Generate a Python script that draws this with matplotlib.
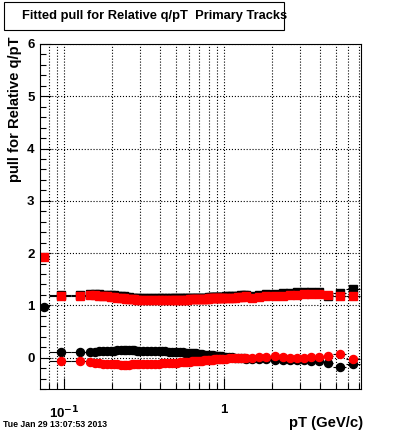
import numpy as np
import matplotlib
matplotlib.use("Agg")
import matplotlib.pyplot as plt
from matplotlib.patches import Rectangle
from matplotlib.ticker import FixedLocator, FixedFormatter, NullFormatter

plt.rcParams['font.family'] = ['Liberation Sans', 'DejaVu Sans']
plt.rcParams['font.weight'] = 'bold'

nan = np.nan

# pT bin edges (GeV/c)
pt_edges = [0.07, 0.08, 0.11, 0.14,
            0.15, 0.16, 0.17, 0.18, 0.19, 0.20, 0.21, 0.22, 0.23, 0.24,
            0.25, 0.26, 0.27, 0.28, 0.29, 0.30,
            0.32, 0.34, 0.36, 0.38, 0.40, 0.42, 0.44, 0.46, 0.48, 0.50,
            0.52, 0.54, 0.56, 0.58, 0.60, 0.62, 0.64, 0.66, 0.68, 0.70,
            0.72, 0.74, 0.76, 0.78, 0.80, 0.82, 0.84, 0.86, 0.88, 0.90,
            0.92, 0.94, 0.96, 0.98, 1.00,
            1.05, 1.10, 1.15, 1.20, 1.25, 1.30, 1.35, 1.40,
            1.575, 1.725, 1.95, 2.2, 2.45, 2.7, 3.0, 3.3, 3.7, 4.2, 4.8, 5.8, 7.1]

# black: mean (circles) and sigma (squares)
black_mean = [0.97, 0.10, 0.10,
              0.10, 0.11, 0.12, 0.12, 0.13, 0.13, 0.13, 0.14, 0.14, 0.14, 0.14, 0.14, 0.14, 0.14, 0.13, 0.13,
              0.13, 0.13, 0.13, 0.12, 0.12, 0.12, 0.12, 0.11, 0.11, 0.11,
              0.10, 0.10, 0.10, 0.09, 0.09, 0.09, 0.08, 0.08, 0.08, 0.07,
              0.07, 0.07, 0.06, 0.06, 0.06, 0.05, 0.05, 0.05, 0.04, 0.04,
              0.04, 0.03, 0.03, 0.03, 0.02,
              0.02, 0.01, 0.01, 0.0, 0.0, -0.01, -0.01, -0.02,
              -0.02, -0.03, -0.03, -0.04, -0.05, -0.04, -0.05, -0.05, -0.06, -0.07, -0.10, -0.17, -0.12]
black_sigma = [nan, 1.19, 1.19,
               1.21, 1.21, 1.21, 1.20, 1.20, 1.19, 1.19, 1.18, 1.17, 1.17, 1.16, 1.16, 1.15, 1.15, 1.14, 1.14,
               1.14, 1.14, 1.14, 1.14, 1.14, 1.14, 1.14, 1.14, 1.14, 1.14,
               1.14, 1.14, 1.14, 1.14, 1.14, 1.15, 1.15, 1.15, 1.15, 1.15,
               1.15, 1.15, 1.15, 1.15, 1.15, 1.16, 1.16, 1.16, 1.16, 1.16,
               1.16, 1.16, 1.16, 1.16, 1.16,
               1.17, 1.17, 1.18, 1.18, 1.18, 1.19, 1.19, 1.19,
               1.18, 1.19, 1.21, 1.22, 1.23, 1.24, 1.25, 1.25, 1.26, 1.26, 1.18, 1.23, 1.32]

# red: mean (circles) and sigma (squares)
red_mean = [nan, -0.06, -0.07,
            -0.09, -0.10, -0.11, -0.12, -0.12, -0.13, -0.13, -0.13, -0.14, -0.14, -0.14, -0.14, -0.13, -0.13, -0.13, -0.13,
            -0.13, -0.13, -0.12, -0.12, -0.12, -0.11, -0.11, -0.11, -0.10, -0.10,
            -0.10, -0.09, -0.09, -0.09, -0.08, -0.08, -0.07, -0.07, -0.07, -0.06,
            -0.06, -0.06, -0.05, -0.05, -0.05, -0.04, -0.04, -0.04, -0.03, -0.03,
            -0.03, -0.02, -0.02, -0.02, -0.02,
            -0.02, -0.01, -0.01, -0.01, 0.0, 0.0, 0.0, 0.0,
            -0.01, 0.01, 0.01, 0.04, 0.02, -0.01, 0.0, 0.0, 0.01, 0.01, 0.04, 0.07, -0.03]
red_sigma = [1.92, 1.18, 1.18,
             1.19, 1.19, 1.18, 1.18, 1.17, 1.16, 1.16, 1.15, 1.14, 1.14, 1.13, 1.13, 1.12, 1.12, 1.11, 1.11,
             1.11, 1.11, 1.11, 1.11, 1.11, 1.11, 1.11, 1.11, 1.11, 1.11,
             1.11, 1.11, 1.11, 1.11, 1.11, 1.12, 1.12, 1.12, 1.12, 1.13,
             1.13, 1.13, 1.13, 1.13, 1.13, 1.14, 1.14, 1.14, 1.14, 1.14,
             1.14, 1.14, 1.14, 1.14, 1.14,
             1.14, 1.15, 1.15, 1.15, 1.16, 1.16, 1.16, 1.17,
             1.15, 1.16, 1.17, 1.18, 1.18, 1.19, 1.20, 1.21, 1.21, 1.22, 1.19, 1.17, 1.18]

edges = np.array(pt_edges)
pt = 0.5 * (edges[:-1] + edges[1:])
pt_err = [pt - edges[:-1], edges[1:] - pt]

fig = plt.figure(figsize=(4, 4.33), dpi=100)
ax = fig.add_axes([0.1, 0.1016, 0.8025, 0.7968])

series = [(black_mean, 'black', 'o', 5.8), (black_sigma, 'black', 's', 6.0),
          (red_mean, 'red', 'o', 5.8), (red_sigma, 'red', 's', 6.0)]
for vals, col, mk, ms in series:
    ax.errorbar(pt, vals, xerr=pt_err, fmt=mk, color=col, ms=ms, mec=col,
                ecolor='black', elinewidth=0.8, capsize=0)

ax.set_xscale('log')
ax.set_xlim(0.0705, 7.2)
ax.set_ylim(-0.6, 6)

ax.xaxis.set_major_locator(FixedLocator([0.1, 1]))
ax.xaxis.set_major_formatter(FixedFormatter(['10$^{-1}$', '1']))
minor_x = [0.08, 0.09] + [0.1 * k for k in range(2, 10)] + [float(k) for k in range(2, 8)]
ax.xaxis.set_minor_locator(FixedLocator(minor_x))
ax.xaxis.set_minor_formatter(NullFormatter())
ax.set_yticks(range(0, 7))
ax.set_yticks(np.arange(-0.6, 6.01, 0.2), minor=True)

ax.grid(True, which='both', axis='x', color='black', linestyle=':', linewidth=0.8)
ax.grid(True, which='major', axis='y', color='black', linestyle=':', linewidth=0.8)
ax.set_axisbelow(True)

ax.tick_params(axis='both', which='both', direction='in', top=False, right=False,
               labelsize=9.5, width=0.8)
ax.tick_params(axis='both', which='major', length=8)
ax.tick_params(axis='both', which='minor', length=4)
ax.tick_params(axis='x', which='major', pad=11)
ax.tick_params(axis='y', which='major', pad=4)
for sp in ax.spines.values():
    sp.set_linewidth(0.8)

# axis titles
fig.text(15 / 400, 1 - 37 / 433, 'pull for Relative q/pT', fontsize=10.6,
         fontweight='bold', rotation=90, ha='center', va='top')
fig.text(363 / 400, 1 - 423 / 433, 'pT (GeV/c)', fontsize=10.7, fontweight='bold',
         ha='right', va='center')

# title box
fig.patches.append(Rectangle((4 / 400, 1 - 30 / 433), 280 / 400, 28 / 433,
                             transform=fig.transFigure, fill=False, edgecolor='black',
                             linewidth=0.8))
fig.text(22 / 400, 1 - 16 / 433, 'Fitted pull for Relative q/pT  Primary Tracks',
         fontsize=9.3, fontweight='bold', ha='left', va='center')

fig.text(3 / 400, 1 - 424.5 / 433, 'Tue Jan 29 13:07:53 2013', fontsize=6.3,
         fontweight='bold', ha='left', va='center')

fig.savefig('out.png', dpi=100)
